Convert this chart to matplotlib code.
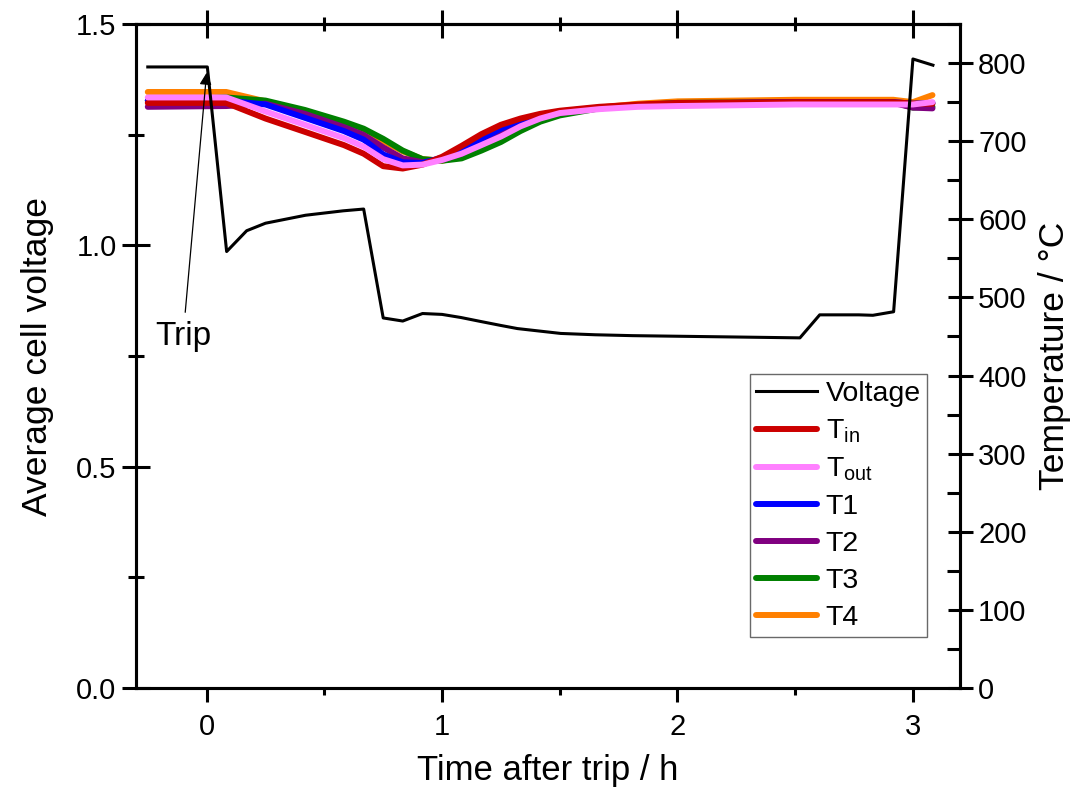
import matplotlib
matplotlib.use("Agg")
import matplotlib.pyplot as plt
from matplotlib.ticker import MultipleLocator, FormatStrFormatter

plt.rcParams['font.family'] = ['Liberation Sans', 'DejaVu Sans']
plt.rcParams['mathtext.default'] = 'regular'

# Average cell voltage after the trip
v_time = [-0.25, 0.003, 0.085, 0.17, 0.25, 0.42, 0.58, 0.667, 0.75, 0.833, 0.917,
          1.0, 1.08, 1.164, 1.25, 1.32, 1.42, 1.504, 1.65, 1.81, 2.24, 2.52,
          2.604, 2.77, 2.83, 2.918, 3.0, 3.085]
voltage = [1.403, 1.403, 0.986, 1.033, 1.050, 1.068, 1.078, 1.082, 0.836, 0.829, 0.846,
           0.844, 0.837, 0.828, 0.819, 0.812, 0.806, 0.801, 0.798, 0.796, 0.793, 0.791,
           0.843, 0.843, 0.842, 0.850, 1.421, 1.407]

# Temperatures (degC)
t_time = [-0.25, 0.083, 0.25, 0.417, 0.583, 0.667, 0.75, 0.833, 0.917, 1.0, 1.083,
          1.167, 1.25, 1.333, 1.417, 1.5, 1.667, 1.833, 2.0, 2.5, 2.917, 3.0, 3.083]
t_in = [749, 749, 729, 712, 695, 684, 668, 665, 670, 680, 694,
        709, 721, 729, 735, 739, 744, 747, 749, 750, 750, 748, 748]
t_out = [756, 756, 738, 721, 704, 693, 677, 669, 670, 676, 684,
         695, 706, 719, 729, 736, 741, 744, 745, 747, 747, 747, 750]
t1 = [752, 752, 747, 730, 713, 702, 683, 673, 672, 679, 690,
      703, 716, 727, 734, 738, 743, 746, 748, 750, 750, 748, 749]
t2 = [744, 745, 748, 735, 718, 708, 692, 678, 673, 676, 684,
      697, 710, 722, 731, 736, 742, 746, 748, 750, 749, 743, 742]
t3 = [752, 756, 752, 740, 725, 716, 703, 688, 677, 675, 678,
      688, 699, 713, 725, 733, 742, 746, 749, 750, 750, 743, 744]
t4 = [763, 763, 751, 737, 722, 712, 700, 687, 677, 675, 680,
      690, 702, 716, 727, 735, 743, 748, 751, 753, 753, 750, 759]

temp_series = [
    ('T$_{in}$', t_in, '#CC0000'),
    ('T$_{out}$', t_out, '#FF80FF'),
    ('T1', t1, '#0000FF'),
    ('T2', t2, '#800080'),
    ('T3', t3, '#008000'),
    ('T4', t4, '#FF8000'),
]
draw_order = [5, 4, 3, 2, 0, 1]

fig = plt.figure(figsize=(10.76, 7.90), dpi=100)
ax = fig.add_axes([0.1264, 0.1291, 0.7658, 0.8405])
ax2 = ax.twinx()
ax.set_zorder(ax2.get_zorder() + 1)
ax.patch.set_visible(False)

temp_handles = {}
for i in draw_order:
    label, vals, col = temp_series[i]
    h, = ax2.plot(t_time, vals, color=col, lw=4.3, label=label, solid_capstyle='round')
    temp_handles[i] = h

vh, = ax.plot(v_time, voltage, color='black', lw=2.2, label='Voltage')

ax.set_xlim(-0.3, 3.2)
ax.set_ylim(0, 1.5)
ax2.set_ylim(0, 850)

for a in (ax, ax2):
    for s in a.spines.values():
        s.set_linewidth(2.2)

ax.xaxis.set_major_locator(MultipleLocator(1))
ax.xaxis.set_minor_locator(MultipleLocator(0.5))
ax.yaxis.set_major_locator(MultipleLocator(0.5))
ax.yaxis.set_minor_locator(MultipleLocator(0.25))
ax.yaxis.set_major_formatter(FormatStrFormatter('%.1f'))
ax2.yaxis.set_major_locator(MultipleLocator(100))
ax2.yaxis.set_minor_locator(MultipleLocator(50))

ax.tick_params(axis='x', which='major', direction='out', length=10, width=2.2,
               labelsize=21, pad=8, top=False)
ax.tick_params(axis='x', which='minor', direction='out', length=5, width=2.2, top=False)
ax.tick_params(axis='y', which='major', direction='inout', length=20, width=2.2,
               labelsize=21, pad=4, right=False)
ax.tick_params(axis='y', which='minor', direction='inout', length=11.5, width=2.2, right=False)
ax2.tick_params(axis='y', which='major', direction='inout', length=18, width=2.2,
                labelsize=21, pad=4)
ax2.tick_params(axis='y', which='minor', direction='in', length=9.5, width=2.2)

top = ax.secondary_xaxis('top')
top.xaxis.set_major_locator(MultipleLocator(1))
top.xaxis.set_minor_locator(MultipleLocator(0.5))
top.tick_params(axis='x', which='major', direction='inout', length=20, width=2.2, labeltop=False)
top.tick_params(axis='x', which='minor', direction='inout', length=10, width=2.2)
top.spines['top'].set_linewidth(2.2)

ax.set_xlabel('Time after trip / h', fontsize=25, labelpad=9)
ax.set_ylabel('Average cell voltage', fontsize=25.5, labelpad=16)
ax2.set_ylabel('Temperature / \u00b0C', fontsize=25.5, labelpad=8)

ax.annotate('Trip', xy=(0.0, 1.39), xytext=(-0.1, 0.795), fontsize=24,
            ha='center', va='center',
            arrowprops=dict(arrowstyle='-|>', color='black', lw=0.9,
                            mutation_scale=18, shrinkA=4, shrinkB=0))

handles = [vh] + [temp_handles[i] for i in range(6)]
leg = ax.legend(handles=handles, loc='lower right', bbox_to_anchor=(0.96, 0.077),
                borderaxespad=0, fontsize=20.5, frameon=True, fancybox=False,
                edgecolor='#444444', handlelength=2.15, handletextpad=0.3,
                labelspacing=0.38, borderpad=0.22)
leg.get_frame().set_linewidth(1.0)

fig.savefig('out.png', dpi=100)
